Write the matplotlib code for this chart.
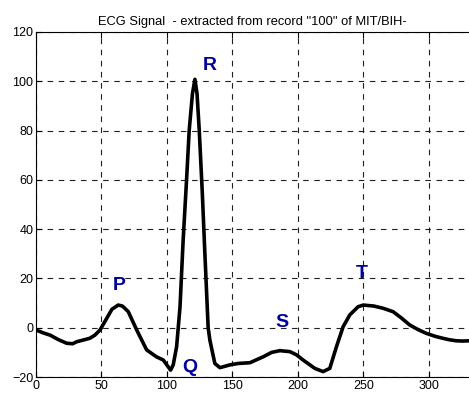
import numpy as np
import matplotlib.pyplot as plt

plt.rcParams['font.family'] = ['Liberation Sans', 'DejaVu Sans']

# samples
t = [0, 5, 10.7, 17, 23.4, 28, 31, 36, 41, 45, 48.9, 54, 58, 62.8, 66, 70.5,
     76.9, 84.5, 92, 97.2, 102.8, 104.8, 107.4, 110, 112.4, 115, 117, 119.5,
     121.4, 123, 124.7, 127, 129, 131.5, 132.8, 136.6, 140.5, 148, 154.4,
     163.4, 173.5, 180, 186.3, 193.9, 199, 204, 213, 219.3, 224.4, 229.5,
     234.6, 239.7, 246, 250, 258, 265.1, 272.8, 279, 285.5, 292, 298.2, 305,
     310.9, 316, 321, 326, 331]
ecg = [-0.9, -2, -3, -4.8, -6.3, -6.5, -5.7, -5, -4.3, -3, -0.9, 3.8, 7.5,
       9.2, 8.8, 6.5, -0.9, -9, -11.8, -13.1, -17.2, -15.1, -7.7, 8.5, 35.6,
       60, 80, 95, 100.8, 95, 80, 55, 30, 0, -5, -14.5, -16.2, -15.1, -14.5,
       -14.2, -11.8, -10, -9.3, -9.7, -11, -13.1, -16.5, -17.8, -16.5, -7.7,
       0.4, 5.2, 8.5, 9.2, 8.8, 7.9, 6.5, 4, 1.1, -0.8, -2.3, -3.5, -4.3,
       -4.9, -5.3, -5.4, -5.3]

wave_names = ['P', 'Q', 'R', 'S', 'T']
wave_x = [63.5, 117.6, 133, 188, 249]
wave_y = [17.3, -16, 106.5, 2.3, 22]

xticks = [0, 50, 100, 150, 200, 250, 300]
yticks = [-20, 0, 20, 40, 60, 80, 100, 120]

fig = plt.figure(figsize=(4.69, 3.94), dpi=100)
# right spine falls just outside the picture, as in the reference
ax = fig.add_axes([0.0768, 0.0431, 0.949, 0.8757])

ax.plot(t, ecg, color='black', lw=2.6, solid_joinstyle='round')
for name, px, py in zip(wave_names, wave_x, wave_y):
    ax.text(px, py, name, color='#00009c', fontsize=14, fontweight='bold',
            ha='center', va='center')

ax.set_xlim(0, 340)
ax.set_ylim(-20, 120)
ax.set_xticks(xticks)
ax.set_yticks(yticks)
ax.tick_params(direction='in', top=True, right=True, labelsize=9, length=4,
               pad=2)
ax.grid(True, color='#202020', linestyle=(0, (5, 5)), lw=0.8)
ax.set_title('ECG Signal  - extracted from record "100" of MIT/BIH-',
             fontsize=9.3, pad=5, x=0.4865)

fig.savefig('out.png', dpi=100)
